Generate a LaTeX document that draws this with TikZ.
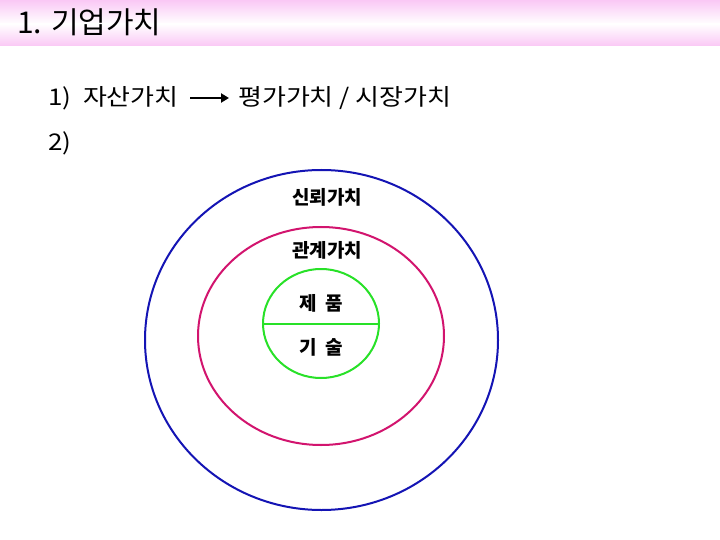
\documentclass[tikz,border=0pt]{standalone}
\usepackage{fontspec}
\setmainfont{Liberation Sans}
\newfontfamily\kr{Noto Sans CJK KR}
\newfontfamily\krwide{Noto Sans CJK KR}[FakeStretch=1.13]
\usetikzlibrary{arrows.meta}
\definecolor{titlepink}{RGB}{250,200,245}
\definecolor{outerblue}{RGB}{20,20,180}
\definecolor{midpink}{RGB}{210,20,110}
\definecolor{innergreen}{RGB}{40,225,40}
\tikzset{
  body/.style={anchor=west, inner sep=0pt, font=\krwide\fontsize{23}{25}\selectfont},
  ring/.style={font=\kr\bfseries\fontsize{19}{21}\selectfont}
}

\begin{document}
\begin{tikzpicture}[x=1pt, y=-1pt]
      \useasboundingbox (0, 0) rectangle (720, 540);
      \fill[white] (0, 0) rectangle (720, 540);
      % title bar
      \shade[top color=titlepink, bottom color=white] (0, 0) rectangle (720, 24);
      \shade[top color=white, bottom color=titlepink] (0, 24) rectangle (720, 46);
      \node[anchor=west, inner sep=0pt, font=\kr\fontsize{30}{32}\selectfont] (title) at (17, 22) {1. 기업가치};

      % value line
      \node[body] (asset) at (48, 98) {1)\ \ 자산가치};
      \node[body] (market) at (238, 98) {평가가치\ /\ 시장가치};
      \draw[line width=2.8pt, -{Triangle[length=8pt, width=9pt]}] (190, 98) -- ([xshift=-9pt]market.west);
      \node[body] (second) at (48, 143) {2)};

      % circles
      \draw[outerblue, line width=2pt] (321.5, 340) ellipse [x radius=176.5, y radius=170];
      \draw[midpink, line width=2pt] (321, 336) ellipse [x radius=123, y radius=109];
      \draw[innergreen, line width=2pt] (321, 323.5) ellipse [x radius=58, y radius=54.5];
      \draw[innergreen, line width=2pt] (263, 324) -- (379, 324);

      \node[ring] (trust) at (327, 197) {신뢰가치};
      \node[ring] (relation) at (327, 250) {관계가치};
      \node[ring] (product) at (321, 303) {제\ \ 품};
      \node[ring] (tech) at (321, 347) {기\ \ 술};
\end{tikzpicture}
\end{document}
